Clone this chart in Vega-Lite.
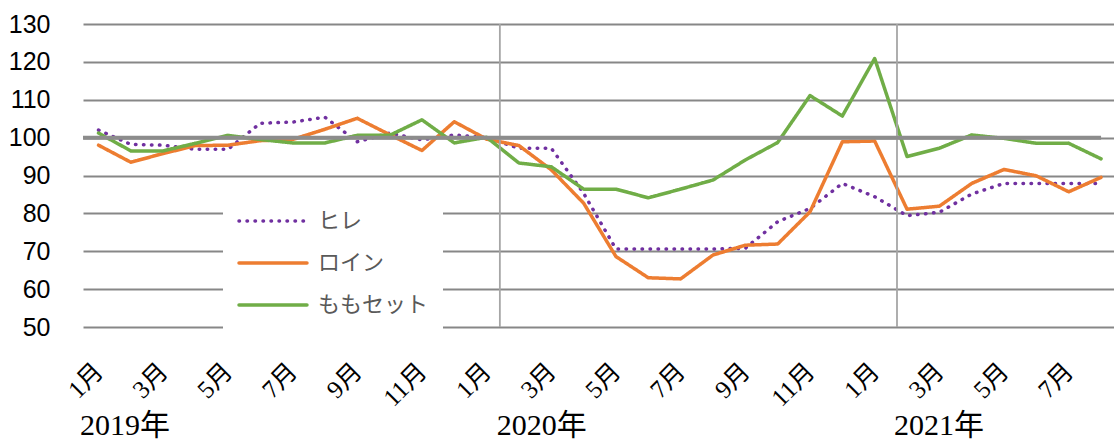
{
  "$schema": "https://vega.github.io/schema/vega-lite/v6.json",
  "width": 1031,
  "height": 303,
  "autosize": {"type": "none"},
  "padding": {"left": 83, "top": 24, "right": 0, "bottom": 113},
  "background": "white",
  "config": {
    "view": {"stroke": null},
    "legend": {
      "orient": "none",
      "legendX": 140,
      "legendY": 170,
      "symbolType": "M-1,0H5.18",
      "symbolSize": 484,
      "symbolStrokeWidth": 3.5,
      "labelFont": "Noto Sans CJK JP",
      "labelFontSize": 22,
      "labelColor": "#595959",
      "labelOffset": 55,
      "rowPadding": 18,
      "padding": 14,
      "fillColor": "white"
    }
  },
  "resolve": {"axis": {"x": "independent", "y": "independent"}},
  "datasets": {
    "sections": [
      {"year": "2019年", "start": -0.48},
      {"year": "2020年", "start": 12.41},
      {"year": "2021年", "start": 24.69}
    ],
    "prices": [
      {"m": 0, "s": "ヒレ", "v": 102.0},
      {"m": 1, "s": "ヒレ", "v": 98.2},
      {"m": 2, "s": "ヒレ", "v": 98.0},
      {"m": 3, "s": "ヒレ", "v": 96.9},
      {"m": 4, "s": "ヒレ", "v": 96.9},
      {"m": 5, "s": "ヒレ", "v": 103.8},
      {"m": 6, "s": "ヒレ", "v": 104.1},
      {"m": 7, "s": "ヒレ", "v": 105.4},
      {"m": 8, "s": "ヒレ", "v": 98.9},
      {"m": 9, "s": "ヒレ", "v": 101.2},
      {"m": 10, "s": "ヒレ", "v": 99.4},
      {"m": 11, "s": "ヒレ", "v": 100.7},
      {"m": 12, "s": "ヒレ", "v": 100.0},
      {"m": 13, "s": "ヒレ", "v": 97.2},
      {"m": 14, "s": "ヒレ", "v": 97.2},
      {"m": 15, "s": "ヒレ", "v": 85.3},
      {"m": 16, "s": "ヒレ", "v": 70.6},
      {"m": 17, "s": "ヒレ", "v": 70.6},
      {"m": 18, "s": "ヒレ", "v": 70.6},
      {"m": 19, "s": "ヒレ", "v": 70.6},
      {"m": 20, "s": "ヒレ", "v": 70.8},
      {"m": 21, "s": "ヒレ", "v": 77.8},
      {"m": 22, "s": "ヒレ", "v": 81.3},
      {"m": 23, "s": "ヒレ", "v": 87.9},
      {"m": 24, "s": "ヒレ", "v": 84.4},
      {"m": 25, "s": "ヒレ", "v": 79.4},
      {"m": 26, "s": "ヒレ", "v": 80.3},
      {"m": 27, "s": "ヒレ", "v": 85.1},
      {"m": 28, "s": "ヒレ", "v": 87.9},
      {"m": 29, "s": "ヒレ", "v": 87.9},
      {"m": 30, "s": "ヒレ", "v": 87.9},
      {"m": 31, "s": "ヒレ", "v": 87.9},
      {"m": 0, "s": "ロイン", "v": 98.0},
      {"m": 1, "s": "ロイン", "v": 93.5},
      {"m": 2, "s": "ロイン", "v": 95.8},
      {"m": 3, "s": "ロイン", "v": 97.9},
      {"m": 4, "s": "ロイン", "v": 98.0},
      {"m": 5, "s": "ロイン", "v": 99.2},
      {"m": 6, "s": "ロイン", "v": 99.5},
      {"m": 7, "s": "ロイン", "v": 102.2},
      {"m": 8, "s": "ロイン", "v": 105.1},
      {"m": 9, "s": "ロイン", "v": 100.8},
      {"m": 10, "s": "ロイン", "v": 96.6},
      {"m": 11, "s": "ロイン", "v": 104.2},
      {"m": 12, "s": "ロイン", "v": 99.6},
      {"m": 13, "s": "ロイン", "v": 97.9},
      {"m": 14, "s": "ロイン", "v": 91.5},
      {"m": 15, "s": "ロイン", "v": 82.7},
      {"m": 16, "s": "ロイン", "v": 68.6},
      {"m": 17, "s": "ロイン", "v": 63.0},
      {"m": 18, "s": "ロイン", "v": 62.7},
      {"m": 19, "s": "ロイン", "v": 69.0},
      {"m": 20, "s": "ロイン", "v": 71.6},
      {"m": 21, "s": "ロイン", "v": 71.9},
      {"m": 22, "s": "ロイン", "v": 80.4},
      {"m": 23, "s": "ロイン", "v": 98.9},
      {"m": 24, "s": "ロイン", "v": 99.1},
      {"m": 25, "s": "ロイン", "v": 81.1},
      {"m": 26, "s": "ロイン", "v": 81.9},
      {"m": 27, "s": "ロイン", "v": 87.9},
      {"m": 28, "s": "ロイン", "v": 91.6},
      {"m": 29, "s": "ロイン", "v": 89.9},
      {"m": 30, "s": "ロイン", "v": 85.7},
      {"m": 31, "s": "ロイン", "v": 89.5},
      {"m": 0, "s": "ももセット", "v": 101.2},
      {"m": 1, "s": "ももセット", "v": 96.5},
      {"m": 2, "s": "ももセット", "v": 96.5},
      {"m": 3, "s": "ももセット", "v": 98.5},
      {"m": 4, "s": "ももセット", "v": 100.6},
      {"m": 5, "s": "ももセット", "v": 99.5},
      {"m": 6, "s": "ももセット", "v": 98.6},
      {"m": 7, "s": "ももセット", "v": 98.6},
      {"m": 8, "s": "ももセット", "v": 100.6},
      {"m": 9, "s": "ももセット", "v": 100.6},
      {"m": 10, "s": "ももセット", "v": 104.7},
      {"m": 11, "s": "ももセット", "v": 98.6},
      {"m": 12, "s": "ももセット", "v": 100.1},
      {"m": 13, "s": "ももセット", "v": 93.3},
      {"m": 14, "s": "ももセット", "v": 92.3},
      {"m": 15, "s": "ももセット", "v": 86.4},
      {"m": 16, "s": "ももセット", "v": 86.4},
      {"m": 17, "s": "ももセット", "v": 84.1},
      {"m": 18, "s": "ももセット", "v": 86.4},
      {"m": 19, "s": "ももセット", "v": 88.8},
      {"m": 20, "s": "ももセット", "v": 94.1},
      {"m": 21, "s": "ももセット", "v": 98.7},
      {"m": 22, "s": "ももセット", "v": 111.1},
      {"m": 23, "s": "ももセット", "v": 105.7},
      {"m": 24, "s": "ももセット", "v": 120.9},
      {"m": 25, "s": "ももセット", "v": 95.0},
      {"m": 26, "s": "ももセット", "v": 97.2},
      {"m": 27, "s": "ももセット", "v": 100.7},
      {"m": 28, "s": "ももセット", "v": 99.8},
      {"m": 29, "s": "ももセット", "v": 98.5},
      {"m": 30, "s": "ももセット", "v": 98.5},
      {"m": 31, "s": "ももセット", "v": 94.4}
    ]
  },
  "layer": [
    {
      "data": {"name": "prices"},
      "mark": {"type": "line", "strokeWidth": 3.5, "strokeCap": "round", "strokeJoin": "round"},
      "encoding": {
        "x": {
          "field": "m",
          "type": "quantitative",
          "scale": {"domain": [-0.48, 31.4], "nice": false, "zero": false},
          "axis": {
            "title": null,
            "values": [0, 2, 4, 6, 8, 10, 12, 14, 16, 18, 20, 22, 24, 26, 28, 30],
            "labelExpr": "(datum.value % 12 + 1) + '月'",
            "labelAngle": -45,
            "labelAlign": "right",
            "labelBaseline": "middle",
            "labelPadding": 40,
            "labelFont": "Liberation Serif, Noto Sans CJK JP",
            "labelFontSize": 25,
            "labelColor": "#000000",
            "labelOverlap": false,
            "labelBound": false,
            "labelFlush": false,
            "ticks": false,
            "tickSize": 0,
            "domain": false,
            "grid": false
          }
        },
        "y": {
          "field": "v",
          "type": "quantitative",
          "scale": {"domain": [50, 130], "nice": false, "zero": false},
          "axis": {
            "title": null,
            "values": [50, 60, 70, 80, 90, 100, 110, 120, 130],
            "labelFont": "Liberation Sans",
            "labelFontSize": 25,
            "labelColor": "#000000",
            "labelPadding": 33,
            "labelOverlap": false,
            "labelBound": false,
            "labelFlush": false,
            "ticks": false,
            "tickSize": 0,
            "domain": false,
            "grid": true,
            "gridColor": "#878787",
            "gridWidth": 2
          }
        },
        "color": {
          "field": "s",
          "type": "nominal",
          "scale": {"domain": ["ヒレ", "ロイン", "ももセット"], "range": ["#7030a0", "#ed7d31", "#70ad47"]},
          "legend": {
            "title": null,
            "encode": {"symbols": {"update": {"strokeCap": {"value": "round"}}}}
          }
        },
        "strokeDash": {
          "field": "s",
          "type": "nominal",
          "scale": {"domain": ["ヒレ", "ロイン", "ももセット"], "range": [[0.5, 7.5], [1, 0], [1, 0]]},
          "legend": {"title": null}
        }
      }
    },
    {
      "data": {"name": "sections"},
      "transform": [{"filter": "datum.start > 0"}],
      "mark": {"type": "rule", "color": "#a6a6a6", "strokeWidth": 1.8},
      "encoding": {
        "x": {"field": "start", "type": "quantitative", "axis": null},
        "y": {"datum": 130, "axis": null},
        "y2": {"datum": 50}
      }
    },
    {
      "data": {"values": [{"base": 100}]},
      "mark": {"type": "rule", "color": "#8c8c8c", "strokeWidth": 4},
      "encoding": {
        "y": {"field": "base", "type": "quantitative", "axis": null},
        "x": {"datum": -0.48, "axis": null},
        "x2": {"datum": 31}
      }
    },
    {
      "data": {"name": "sections"},
      "mark": {
        "type": "text",
        "align": "left",
        "baseline": "alphabetic",
        "dx": -3,
        "font": "Liberation Serif, Noto Sans CJK JP",
        "fontSize": 30,
        "color": "#000000"
      },
      "encoding": {
        "x": {"field": "start", "type": "quantitative", "axis": null},
        "y": {"datum": 21.5, "axis": null},
        "text": {"field": "year"}
      }
    }
  ]
}
